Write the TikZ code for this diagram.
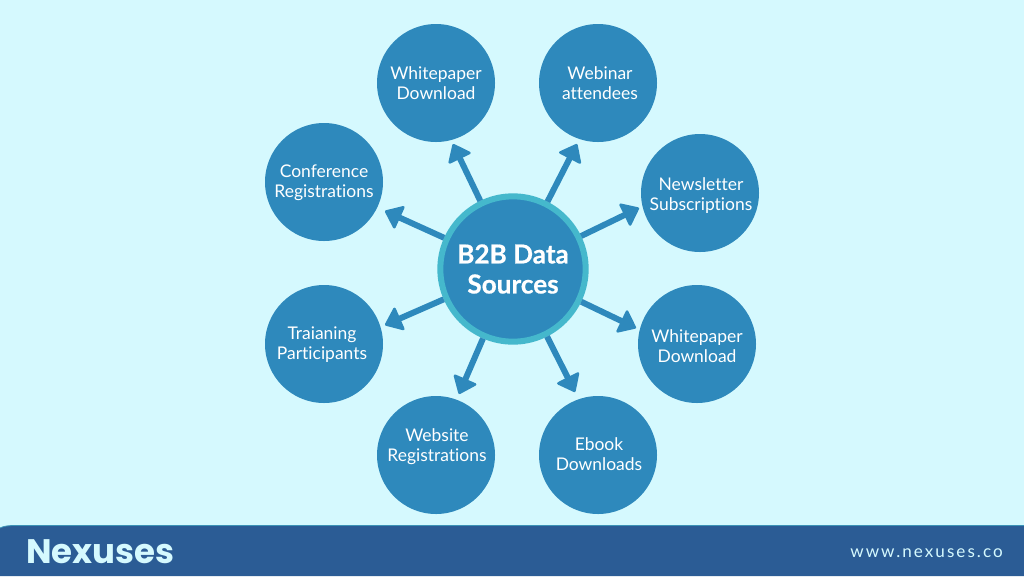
\documentclass[tikz,border=0pt]{standalone}
\usepackage{fontspec}
\setmainfont{Lato}[Ligatures=NoCommon]
\newfontfamily\logofont{Poppins}
\usetikzlibrary{arrows.meta}
\definecolor{bgc}{HTML}{D5F9FE}
\definecolor{circ}{HTML}{2E89BC}
\definecolor{ringc}{HTML}{45B8CC}
\definecolor{barc}{HTML}{2B5C95}
\tikzset{
  leaf/.style={circle,fill=circ,minimum size=88.5pt,inner sep=0pt},
  leaftext/.style={inner sep=0pt,text=white,align=center,font=\fontsize{13.1pt}{15.1pt}\selectfont},
  hubnode/.style={circle,fill=circ,draw=ringc,line width=4.5pt,minimum size=109pt,inner sep=0pt,text=white,align=center,font=\fontsize{19.6pt}{22.5pt}\selectfont\bfseries\addfontfeatures{FakeBold=0.6}},
  link/.style={draw=circ,line width=4.5pt,-{Triangle[length=13pt,width=20pt,round,line width=2pt]}},
}
\begin{document}
\begin{tikzpicture}[x=0.75pt,y=-0.75pt]
\useasboundingbox (0,0) rectangle (1024,576);
\fill[bgc] (0,0) rectangle (1024,576);
\fill[barc] (0,576) -- (0,528) .. controls (4,526) and (8,525.5) .. (16,525.5) -- (1024,525.5) -- (1024,576) -- cycle;
\draw[ringc!60!barc,line width=0.6pt] (0,528) .. controls (4,526) and (8,525.5) .. (16,525.5) -- (1024,525.5);
\node[hubnode] (hub) at (513,269) {B2B Data\\Sources};
\node[leaf] (n1) at (436,83) {};
\node[leaf] (n2) at (598,83) {};
\node[leaf] (n3) at (700,193) {};
\node[leaf] (n4) at (697,344) {};
\node[leaf] (n5) at (598,455) {};
\node[leaf] (n6) at (436,455) {};
\node[leaf] (n7) at (324,344) {};
\node[leaf] (n8) at (324,182) {};
\node[leaftext] (l1) at (436,83.5) {Whitepaper\\Download};
\node[leaftext] (l2) at (600,83.5) {Webinar\\attendees};
\node[leaftext] (l3) at (701,195.5) {Newsletter\\Subscriptions};
\node[leaftext] (l4) at (697,346) {Whitepaper\\Download};
\node[leaftext] (l5) at (599,454.5) {Ebook\\Downloads};
\node[leaftext] (l6) at (437,446.5) {Website\\Registrations};
\node[leaftext] (l7) at (322,344.5) {Traianing\\Participants};
\node[leaftext] (l8) at (324,183) {Conference\\Registrations};
\coordinate (t1) at (453,144);
\coordinate (t2) at (577,144);
\coordinate (t3) at (639,208);
\coordinate (t4) at (636,328);
\coordinate (t5) at (575,392);
\coordinate (t6) at (459,394);
\coordinate (t7) at (385,325);
\coordinate (t8) at (385,211);
\foreach \i in {1,...,8} \draw[link] (hub) -- (t\i);
\node[anchor=west,text=bgc,inner sep=0pt,font=\logofont\fontsize{25.5pt}{25pt}\selectfont\bfseries] (logo) at (26,552) {Nexuses};
\node[anchor=east,text=bgc,inner sep=0pt,font=\fontsize{12.8pt}{14pt}\selectfont\addfontfeatures{LetterSpace=12}] (url) at (1003,553) {www.nexuses.co};
\end{tikzpicture}
\end{document}
